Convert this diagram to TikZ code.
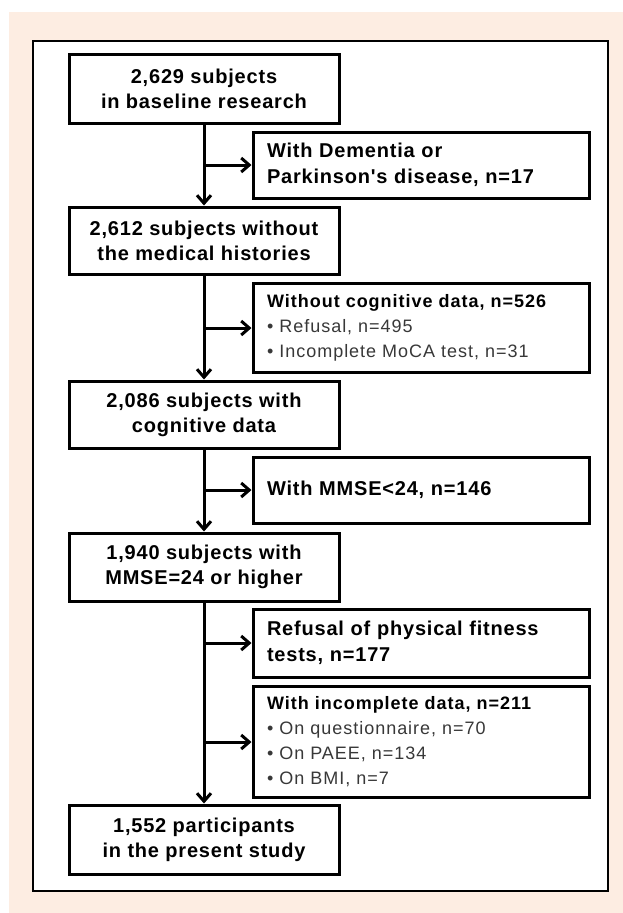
\documentclass[tikz,border=0pt]{standalone}
\usepackage{fontspec}
\setmainfont{Liberation Sans}
\newfontfamily\fmain[LetterSpace=4]{Liberation Sans}
\newfontfamily\fside[LetterSpace=5.5]{Liberation Sans}
\usetikzlibrary{arrows.meta}
\definecolor{peach}{RGB}{253,237,226}
\definecolor{bulletgray}{gray}{0.22}
\begin{document}
\begin{tikzpicture}[x=1pt,y=-1pt,
  boxbase/.style={draw=black, line width=3pt, fill=white},
  mainbox/.style={boxbase, minimum width=270pt, align=center, inner sep=2pt,
    font=\fmain\fontsize{20}{25}\selectfont\bfseries},
  sidebox/.style={boxbase, text width=308pt, inner xsep=14pt, inner ysep=2pt, align=left,
    font=\fmain\fontsize{20}{26}\selectfont\bfseries},
  listbox/.style={boxbase, text width=308pt, inner xsep=14pt, inner ysep=2pt, align=left,
    font=\fside\fontsize{18}{25}\selectfont},
  arr/.style={line width=3pt, -{Straight Barb[length=8pt,width=14pt]}}
]
\useasboundingbox (0,0) rectangle (623,913);
\fill[peach] (9,12) rectangle (623,913);
\draw[line width=2.5pt, fill=white] (33,41) rectangle (608,891);

% main column
\node[mainbox, minimum height=69pt] (b1) at (204,88.5) {2,629 subjects\\in baseline research};
\node[mainbox, minimum height=67pt] (b2) at (204,240.5) {2,612 subjects without\\the medical histories};
\node[mainbox, minimum height=67pt] (b3) at (204,414.5) {2,086 subjects with\\cognitive data};
\node[mainbox, minimum height=68pt] (b4) at (204,567) {1,940 subjects with\\MMSE=24 or higher};
\node[mainbox, minimum height=69pt] (b5) at (204,839.5) {1,552 participants\\in the present study};

% side boxes
\node[sidebox, minimum height=66pt] (sA) at (421,165) {With Dementia or\\Parkinson's disease, n=17};
\node[listbox, minimum height=89pt] (sB) at (421,328) {{\bfseries Without cognitive data, n=526}\\{\color{bulletgray}• Refusal, n=495}\\{\color{bulletgray}• Incomplete MoCA test, n=31}};
\node[sidebox, minimum height=66pt] (sC) at (421,490) {With MMSE<24, n=146};
\node[sidebox, minimum height=68pt] (sD) at (421,643) {Refusal of physical fitness\\tests, n=177};
\node[listbox, minimum height=111pt] (sE) at (421,742) {{\bfseries With incomplete data, n=211}\\{\color{bulletgray}• On questionnaire, n=70}\\{\color{bulletgray}• On PAEE, n=134}\\{\color{bulletgray}• On BMI, n=7}};

% connectors
\draw[arr] (b1.south) -- (b2.north);
\draw[arr] (b2.south) -- (b3.north);
\draw[arr] (b3.south) -- (b4.north);
\draw[arr] (b4.south) -- (b5.north);
\draw[arr] (b1.south |- sA.west) -- (sA.west);
\draw[arr] (b2.south |- sB.west) -- (sB.west);
\draw[arr] (b3.south |- sC.west) -- (sC.west);
\draw[arr] (b4.south |- sD.west) -- (sD.west);
\draw[arr] (b4.south |- sE.west) -- (sE.west);
\end{tikzpicture}
\end{document}
